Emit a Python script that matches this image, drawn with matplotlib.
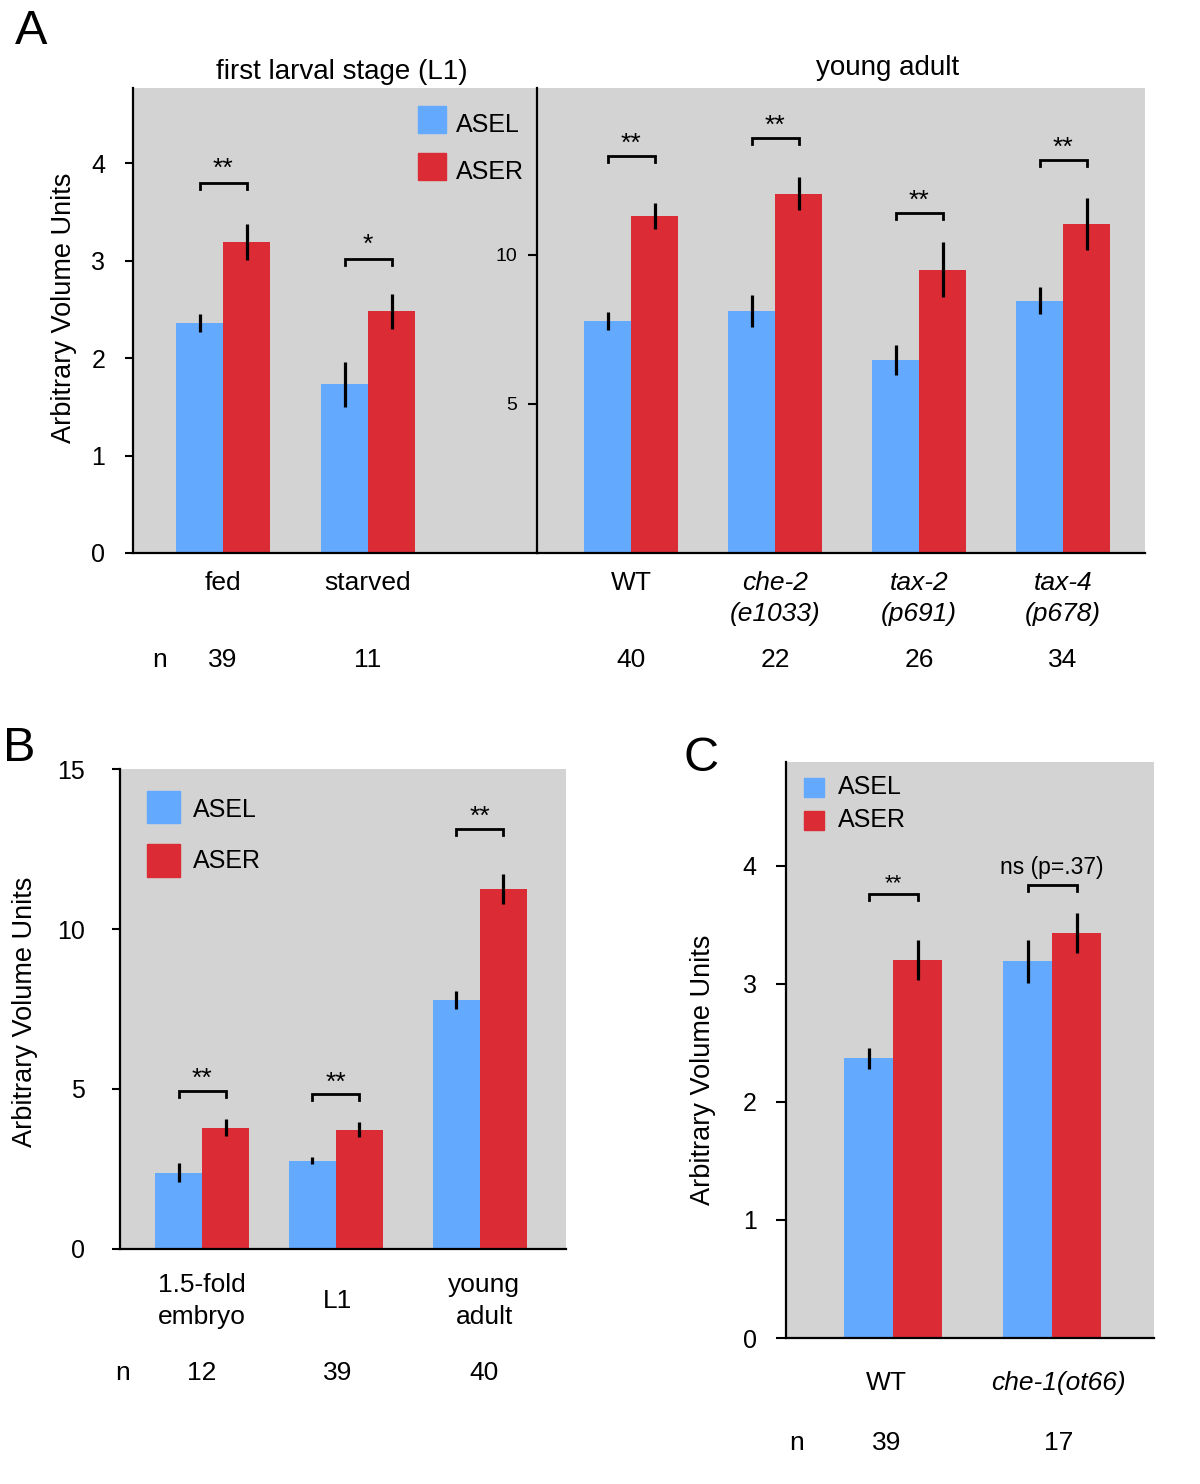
"""
ASEL / ASER volume bar charts (panels A, B, C).
"""
import matplotlib
matplotlib.use("Agg")
import matplotlib.pyplot as plt
from matplotlib.patches import Rectangle
from matplotlib.transforms import blended_transform_factory
import numpy as np

# ---- data -------------------------------------------------------------
a_l1_groups = ["fed", "starved"]
a_l1_asel = [2.36, 1.73]
a_l1_asel_err = [0.09, 0.23]
a_l1_aser = [3.19, 2.48]
a_l1_aser_err = [0.18, 0.18]
a_l1_n = [39, 11]
a_l1_sig = ["**", "*"]
a_l1_bracket = [3.80, 3.02]

a_ya_groups = ["WT", "che-2\n(e1033)", "tax-2\n(p691)", "tax-4\n(p678)"]
a_ya_italic = [False, True, True, True]
a_ya_asel = [7.79, 8.12, 6.48, 8.46]
a_ya_asel_err = [0.30, 0.55, 0.50, 0.45]
a_ya_aser = [11.31, 12.05, 9.50, 11.04]
a_ya_aser_err = [0.44, 0.55, 0.92, 0.87]
a_ya_n = [40, 22, 26, 34]
a_ya_sig = ["**", "**", "**", "**"]
a_ya_bracket = [13.32, 13.93, 11.41, 13.19]

b_groups = ["1.5-fold\nembryo", "L1", "young\nadult"]
b_asel = [2.38, 2.76, 7.77]
b_asel_err = [0.30, 0.10, 0.28]
b_aser = [3.79, 3.73, 11.25]
b_aser_err = [0.27, 0.23, 0.48]
b_n = [12, 39, 40]
b_sig = ["**", "**", "**"]
b_bracket = [4.95, 4.83, 13.13]

c_groups = ["WT", "che-1(ot66)"]
c_italic = [False, True]
c_asel = [2.37, 3.19]
c_asel_err = [0.09, 0.18]
c_aser = [3.20, 3.43]
c_aser_err = [0.17, 0.17]
c_n = [39, 17]
c_sig = ["**", "ns (p=.37)"]
c_bracket = [3.76, 3.84]

# ---- style ------------------------------------------------------------
BLUE = "#63a9fd"
RED = "#db2b34"
GRAY = "#d3d3d3"
plt.rcParams["font.family"] = ["Liberation Sans", "DejaVu Sans"]

W, H = 1200, 1484
fig = plt.figure(figsize=(W / 100, H / 100), dpi=100)


def add_ax(x0, y0, x1, y1):
    """axes from pixel box (top-left origin)"""
    return fig.add_axes([x0 / W, 1 - y1 / H, (x1 - x0) / W, (y1 - y0) / H])


def style_ax(ax, ylim, yticks, fs, pad, length):
    ax.set_facecolor(GRAY)
    ax.set_ylim(*ylim)
    ax.set_yticks(yticks)
    ax.set_xticks([])
    for s in ["top", "right"]:
        ax.spines[s].set_visible(False)
    for s in ["left", "bottom"]:
        ax.spines[s].set_linewidth(1.6)
    ax.tick_params(axis="y", labelsize=fs, pad=pad, length=length, width=1.5,
                   direction="out")


def draw_bars(ax, x, asel, asel_err, aser, aser_err, w):
    x = np.asarray(x, dtype=float)
    ax.bar(x - w / 2, asel, w, color=BLUE, label="ASEL", zorder=2)
    ax.bar(x + w / 2, aser, w, color=RED, label="ASER", zorder=2)
    ax.errorbar(x - w / 2, asel, yerr=asel_err, fmt="none", ecolor="k",
                elinewidth=2.3, capsize=0, zorder=3)
    ax.errorbar(x + w / 2, aser, yerr=aser_err, fmt="none", ecolor="k",
                elinewidth=2.3, capsize=0, zorder=3)


def brackets(ax, x, w, ys, labels, fs, gap=1):
    p0 = ax.transData.transform((0, 0))
    p1 = ax.transData.transform((0, 1))
    drop = 6 / (p1[1] - p0[1])
    for xi, y, lab in zip(x, ys, labels):
        xa, xb = xi - w / 2, xi + w / 2
        ax.plot([xa, xa, xb, xb], [y - drop, y, y, y - drop], color="k",
                lw=2, solid_joinstyle="miter", zorder=4)
        ax.annotate(lab, xy=(xi, y), xytext=(0, gap), textcoords="offset points",
                    ha="center", va="bottom", fontsize=fs)


def xtext(ax, x, ypx, labels, fs, va="top", italic=None, ls=1.35):
    tr = blended_transform_factory(ax.transData, fig.transFigure)
    for i, (xi, lab) in enumerate(zip(x, labels)):
        style = "italic" if italic and italic[i] else "normal"
        ax.text(xi, 1 - ypx / H, str(lab), transform=tr, ha="center", va=va,
                fontsize=fs, style=style, linespacing=ls, clip_on=False)


def ylab(xpx, ypx, fs=19.5):
    fig.text(xpx / W, 1 - ypx / H, "Arbitrary Volume Units", rotation=90,
             ha="center", va="center", fontsize=fs)


def key(x0, x1, boxes, tx, fs=18):
    """legend swatches: boxes = [(y_top, y_bottom, text_center_y), ...]"""
    for (yt, yb, ty), col, lab in zip(boxes, [BLUE, RED], ["ASEL", "ASER"]):
        fig.add_artist(Rectangle((x0 / W, 1 - yb / H), (x1 - x0) / W, (yb - yt) / H,
                                 transform=fig.transFigure, color=col, zorder=5))
        fig.text(tx / W, 1 - ty / H, lab, ha="left", va="center", fontsize=fs,
                 zorder=5)


# ---- panel A, L1 --------------------------------------------------------
ax1 = add_ax(133, 88, 537, 553)
style_ax(ax1, (0, 4.77), [0, 1, 2, 3, 4], 18, 14, 6)
x1 = np.arange(len(a_l1_groups))
w1 = 47 / 145
ax1.set_xlim((133 - 223) / 145, (537 - 223) / 145)
draw_bars(ax1, x1, a_l1_asel, a_l1_asel_err, a_l1_aser, a_l1_aser_err, w1)
brackets(ax1, x1, w1, a_l1_bracket, a_l1_sig, 19, gap=1)
key(418, 446, [(106, 133, 125), (153, 180, 172)], 456)
xtext(ax1, x1, 571, a_l1_groups, 19)
xtext(ax1, x1, 660, a_l1_n, 19, va="center")
fig.text(160 / W, 1 - 660 / H, "n", ha="center", va="center", fontsize=19)
fig.text(342 / W, 1 - 79 / H, "first larval stage (L1)", ha="center",
         va="baseline", fontsize=20)
ylab(64, 308)

# ---- panel A, young adult ---------------------------------------------
ax2 = add_ax(537, 88, 1145, 553)
style_ax(ax2, (0, 15.6), [5, 10], 14, 8, 6.5)
x2 = np.arange(len(a_ya_groups))
w2 = 47 / 144
ax2.set_xlim((537 - 631) / 144, (1145 - 631) / 144)
draw_bars(ax2, x2, a_ya_asel, a_ya_asel_err, a_ya_aser, a_ya_aser_err, w2)
brackets(ax2, x2, w2, a_ya_bracket, a_ya_sig, 19, gap=0)
xtext(ax2, x2, 571, a_ya_groups, 19, italic=a_ya_italic)
xtext(ax2, x2, 660, a_ya_n, 19, va="center")
fig.text(888 / W, 1 - 75 / H, "young adult", ha="center", va="baseline",
         fontsize=20)

fig.text(15 / W, 1 - 44 / H, "A", fontsize=35, va="baseline", ha="left")

# ---- panel B ------------------------------------------------------------
ax3 = add_ax(120, 769, 566, 1249)
style_ax(ax3, (0, 15), [0, 5, 10, 15], 18, 19, 6)
x3 = np.array([0, 0.93, 1.93])
w3 = 47 / 144
ax3.set_xlim((120 - 202) / 144, (566 - 202) / 144)
draw_bars(ax3, x3, b_asel, b_asel_err, b_aser, b_aser_err, w3)
brackets(ax3, x3, w3, b_bracket, b_sig, 19, gap=0)
key(147, 180, [(791, 823, 810), (844, 877, 861)], 193)
xtext(ax3, x3 + np.array([0, 0.01, 0.03]), 1301, b_groups, 19, va="center", ls=1.45)
xtext(ax3, x3 + np.array([0, 0.01, 0.03]), 1373, b_n, 19, va="center")
fig.text(123 / W, 1 - 1373 / H, "n", ha="center", va="center", fontsize=19)
ylab(25, 1012)
fig.text(3 / W, 1 - 761 / H, "B", fontsize=35, va="baseline", ha="left")

# ---- panel C ------------------------------------------------------------
ax4 = add_ax(786, 762, 1154, 1338)
style_ax(ax4, (0, 4.88), [0, 1, 2, 3, 4], 18, 14, 7)
x4 = np.arange(len(c_groups))
w4 = 49 / 159
ax4.set_xlim((786 - 893) / 159, (1154 - 893) / 159)
draw_bars(ax4, x4, c_asel, c_asel_err, c_aser, c_aser_err, w4)
brackets(ax4, x4[:1], w4, c_bracket[:1], c_sig[:1], 16, gap=0)
brackets(ax4, x4[1:], w4, c_bracket[1:], c_sig[1:], 16.5, gap=4)
key(804, 824, [(778, 797, 787), (811, 830, 820)], 838)
c_text_x = x4 + np.array([-0.04, 0.04])
xtext(ax4, c_text_x, 1383, c_groups, 19, va="center", italic=c_italic)
xtext(ax4, c_text_x, 1443, c_n, 19, va="center")
fig.text(797 / W, 1 - 1443 / H, "n", ha="center", va="center", fontsize=19)
ylab(703, 1070)
fig.text(683 / W, 1 - 771 / H, "C", fontsize=35, va="baseline", ha="left")

fig.savefig("out.png", dpi=100)
